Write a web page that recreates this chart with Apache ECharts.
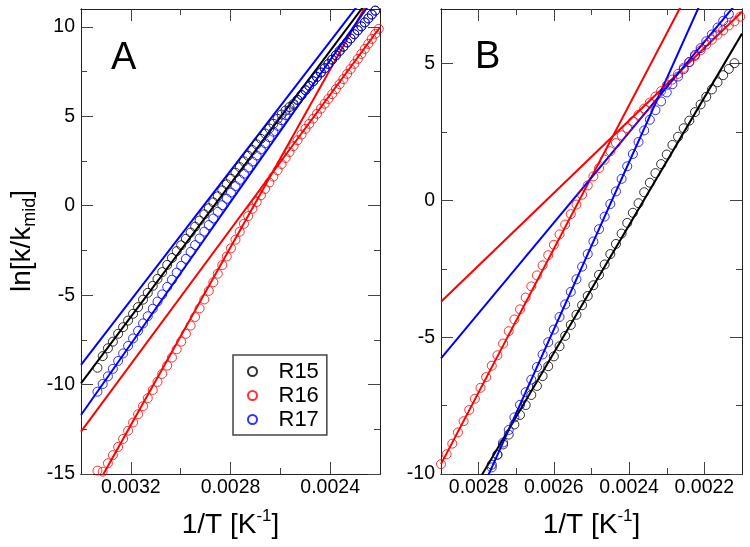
<!DOCTYPE html>
<html>
<head>
<meta charset="utf-8">
<script src="https://cdn.jsdelivr.net/npm/echarts@6/dist/echarts.min.js"></script>
<style>
  html, body { margin: 0; padding: 0; background: #fff; }
  #chart { width: 750px; height: 547px; }
</style>
</head>
<body>
<div id="chart"></div>
<script>
'use strict';

// panel A : 1/T grid and ln[k/kmid] for each series
var invTA = [
  0.003334, 0.003313, 0.003292, 0.003272, 0.003251, 0.003231, 0.003211, 0.003191, 0.003171, 0.003151,
  0.003132, 0.003112, 0.003093, 0.003074, 0.003054, 0.003035, 0.003016, 0.002998, 0.002979, 0.002960,
  0.002942, 0.002924, 0.002905, 0.002887, 0.002869, 0.002851, 0.002833, 0.002815, 0.002798, 0.002780,
  0.002763, 0.002746, 0.002729, 0.002712, 0.002695, 0.002678, 0.002661, 0.002644, 0.002628, 0.002611,
  0.002595, 0.002579, 0.002563, 0.002547, 0.002531, 0.002515, 0.002499, 0.002484, 0.002468, 0.002453,
  0.002437, 0.002422, 0.002407, 0.002392, 0.002377, 0.002362, 0.002347, 0.002332, 0.002318, 0.002303,
  0.002289, 0.002275, 0.002261, 0.002247, 0.002233, 0.002219, 0.002205
];
var r15A = [
  -9.06, -8.41, -7.97, -7.60, -7.16, -6.79, -6.42, -6.04, -5.67, -5.25,
  -4.87, -4.48, -4.09, -3.71, -3.31, -2.92, -2.54, -2.21, -1.85, -1.50,
  -1.17, -0.83, -0.48, -0.14, 0.19, 0.53, 0.86, 1.20, 1.51, 1.85,
  2.16, 2.48, 2.79, 3.11, 3.43, 3.74, 4.04, 4.32, 4.58, 4.86,
  5.10, 5.32, 5.52, 5.70, 5.92, 6.19, 6.46, 6.70, 6.96, 7.20,
  7.45, 7.69, 7.93, 8.17, 8.41, 8.65, 8.89, 9.13, 9.35, 9.59,
  9.81, 10.03, 10.25, 10.47, 10.69, 10.91
];
var r16A = [
  -14.81, -14.87, -14.40, -13.95, -13.49, -13.04, -12.58, -12.12, -11.66, -11.21,
  -10.76, -10.30, -9.85, -9.40, -8.94, -8.49, -8.03, -7.60, -7.16, -6.70,
  -6.22, -5.74, -5.24, -4.76, -4.28, -3.80, -3.32, -2.84, -2.38, -1.90,
  -1.45, -1.01, -0.58, -0.17, 0.21, 0.58, 0.94, 1.30, 1.63, 1.98,
  2.33, 2.67, 3.00, 3.33, 3.66, 3.98, 4.30, 4.58, 4.87, 5.14,
  5.43, 5.70, 5.97, 6.24, 6.52, 6.80, 7.08, 7.37, 7.64, 7.93,
  8.21, 8.49, 8.77, 9.05, 9.33, 9.61, 9.89
];
var r17A = [
  -10.40, -9.97, -9.54, -9.12, -8.68, -8.26, -7.84, -7.42, -7.00, -6.58,
  -6.18, -5.76, -5.36, -4.96, -4.54, -4.14, -3.74, -3.36, -2.97, -2.58,
  -2.20, -1.83, -1.45, -1.08, -0.71, -0.34, 0.03, 0.39, 0.74, 1.10,
  1.45, 1.79, 2.13, 2.47, 2.81, 3.15, 3.49, 3.83, 4.14, 4.47,
  4.78, 5.07, 5.36, 5.64, 5.92, 6.19, 6.46, 6.70, 6.96, 7.20,
  7.45, 7.69, 7.93, 8.17, 8.41, 8.65, 8.89, 9.13, 9.35, 9.59,
  9.81, 10.03, 10.25, 10.47, 10.69, 10.91
];

// panel B
var invTB = [
  0.002900, 0.002885, 0.002870, 0.002855, 0.002840, 0.002825, 0.002810, 0.002795, 0.002780, 0.002765,
  0.002750, 0.002735, 0.002720, 0.002705, 0.002690, 0.002675, 0.002660, 0.002645, 0.002630, 0.002615,
  0.002600, 0.002585, 0.002570, 0.002555, 0.002540, 0.002525, 0.002510, 0.002495, 0.002480, 0.002465,
  0.002450, 0.002435, 0.002420, 0.002405, 0.002390, 0.002375, 0.002360, 0.002345, 0.002330, 0.002315,
  0.002300, 0.002285, 0.002270, 0.002255, 0.002240, 0.002225, 0.002210, 0.002195, 0.002180, 0.002165,
  0.002150, 0.002135, 0.002120, 0.002105
];
var r15B = [
  null, null, null, null, null, null, null, null, -10.02, -9.66,
  -9.29, -8.92, -8.56, -8.19, -7.84, -7.48, -7.11, -6.78, -6.42, -6.06,
  -5.70, -5.33, -4.95, -4.55, -4.18, -3.83, -3.49, -3.10, -2.72, -2.34,
  -1.96, -1.59, -1.21, -0.82, -0.45, -0.10, 0.30, 0.65, 1.00, 1.33,
  1.68, 2.03, 2.33, 2.64, 2.92, 3.23, 3.51, 3.79, 4.06, 4.32,
  4.58, 4.81, 5.02
];
var r16B = [
  -9.64, -9.28, -8.89, -8.48, -8.07, -7.66, -7.25, -6.85, -6.46, -6.04,
  -5.66, -5.23, -4.78, -4.35, -3.98, -3.55, -3.14, -2.74, -2.37, -2.00,
  -1.62, -1.24, -0.88, -0.50, -0.15, 0.21, 0.55, 0.88, 1.18, 1.49,
  1.80, 2.10, 2.38, 2.64, 2.89, 3.13, 3.36, 3.58, 3.80, 4.00,
  4.21, 4.42, 4.63, 4.85, 5.06, 5.28, 5.49, 5.70, 5.88, 6.06,
  6.22, 6.40, 6.55, 6.72
];
var r17B = [
  null, null, null, null, null, null, null, null, -10.22, -9.76,
  -9.30, -8.85, -8.39, -7.93, -7.47, -7.01, -6.55, -6.09, -5.63, -5.18,
  -4.72, -4.26, -3.80, -3.34, -2.88, -2.42, -1.96, -1.50, -1.05, -0.59,
  -0.13, 0.33, 0.79, 1.25, 1.70, 2.14, 2.56, 2.95, 3.30, 3.62,
  3.95, 4.25, 4.53, 4.80, 5.06, 5.32, 5.57, 5.82, 6.07, 6.32,
  6.57, 6.82
];

// straight Arrhenius fits, end points [1/T, ln k]
var fitA15 = [[0.0034, -9.93], [0.0022, 12.38]];
var fitA16steep = [[0.0034, -17.24], [0.0022, 12.59]];
var fitA16flat = [[0.0034, -12.63], [0.0022, 9.98]];
var fitA17steep = [[0.0034, -11.70], [0.0022, 12.11]];
var fitA17flat = [[0.0034, -8.90], [0.0022, 12.81]];
var fitB15 = [[0.0029, -12.57], [0.0021, 6.10]];
var fitB16steep = [[0.0029, -9.64], [0.0021, 11.36]];
var fitB16flat = [[0.0029, -3.70], [0.0021, 6.90]];
var fitB17steep = [[0.0029, -13.89], [0.0021, 10.58]];
var fitB17flat = [[0.0029, -5.77], [0.0021, 7.45]];

// tick values
var xMajorA = [0.0024, 0.0028, 0.0032];
var xMinorA = [0.0026, 0.0030];
var yMajorA = [-15, -10, -5, 0, 5, 10];
var yMinorA = [-12.5, -7.5, -2.5, 2.5, 7.5];
var xMajorB = [0.0022, 0.0024, 0.0026, 0.0028];
var xMinorB = [0.0023, 0.0025, 0.0027];
var yMajorB = [-10, -5, 0, 5];
var yMinorB = [-7.5, -2.5, 2.5];

var names = ['R15', 'R16', 'R17'];
var colors = ['#000000', '#ff0000', '#0000ff'];
var FONT = 'Liberation Sans';

function pts(xs, ys) {
  var out = [];
  ys.forEach(function (y, i) {
    if (y !== null) out.push([xs[i], y]);
  });
  return out;
}

function xAx(grid, min, max, pos, ticks, len, labels) {
  return {
    type: 'value', gridIndex: grid, min: min, max: max, inverse: true, position: pos,
    axisLine: { show: true, onZero: false, lineStyle: { color: '#222', width: 1 } },
    axisTick: { show: true, inside: true, length: len, customValues: ticks, lineStyle: { color: '#444', width: 1 } },
    axisLabel: labels ? {
      show: true, customValues: labels, margin: 4, color: '#000', fontSize: 19.5, fontFamily: FONT,
      formatter: function (v) { return v.toFixed(4); }
    } : { show: false },
    splitLine: { show: false }
  };
}

function yAx(grid, min, max, pos, ticks, len, labels) {
  return {
    type: 'value', gridIndex: grid, min: min, max: max, position: pos,
    axisLine: { show: true, onZero: false, lineStyle: { color: '#222', width: 1 } },
    axisTick: { show: true, inside: true, length: len, customValues: ticks, lineStyle: { color: '#444', width: 1 } },
    axisLabel: labels ? {
      show: true, customValues: labels, margin: 6, color: '#000', fontSize: 19.5, fontFamily: FONT
    } : { show: false },
    splitLine: { show: false }
  };
}

function scatter(name, color, xi, data) {
  return {
    type: 'scatter', name: name, xAxisIndex: xi, yAxisIndex: xi, data: data,
    symbol: 'circle', symbolSize: 9, silent: true, z: 3,
    itemStyle: { color: 'transparent', borderColor: color, borderWidth: 1 }
  };
}

function fit(color, xi, data) {
  return {
    type: 'line', name: 'fit', xAxisIndex: xi, yAxisIndex: xi, data: data,
    symbol: 'none', silent: true, z: 2,
    lineStyle: { color: color, width: 2 }
  };
}

var gridA = { left: 81, top: 9, width: 299, height: 465 };
var gridB = { left: 441, top: 9, width: 301, height: 465 };

var option = {
  backgroundColor: '#fff',
  animation: false,
  grid: [gridA, gridA, gridB, gridB],
  xAxis: [
    xAx(0, 0.0022, 0.0034, 'bottom', xMajorA, 12, xMajorA),
    xAx(1, 0.0022, 0.0034, 'top', xMajorA, 12, null),
    xAx(1, 0.0022, 0.0034, 'bottom', xMinorA, 6, null),
    xAx(0, 0.0022, 0.0034, 'top', xMinorA, 6, null),
    xAx(2, 0.0021, 0.0029, 'bottom', xMajorB, 12, xMajorB),
    xAx(3, 0.0021, 0.0029, 'top', xMajorB, 12, null),
    xAx(3, 0.0021, 0.0029, 'bottom', xMinorB, 6, null),
    xAx(2, 0.0021, 0.0029, 'top', xMinorB, 6, null)
  ],
  yAxis: [
    yAx(0, -15, 11, 'left', yMajorA, 12, yMajorA),
    yAx(1, -15, 11, 'right', yMajorA, 12, null),
    yAx(1, -15, 11, 'left', yMinorA, 6, null),
    yAx(0, -15, 11, 'right', yMinorA, 6, null),
    yAx(2, -10, 7, 'left', yMajorB, 12, yMajorB),
    yAx(3, -10, 7, 'right', yMajorB, 12, null),
    yAx(3, -10, 7, 'left', yMinorB, 6, null),
    yAx(2, -10, 7, 'right', yMinorB, 6, null)
  ],
  legend: {
    data: names, orient: 'vertical', left: 233, top: 355,
    padding: [5, 8, 4, 14], itemWidth: 42, itemHeight: 9, itemGap: 1,
    borderColor: '#444', borderWidth: 1.5, selectedMode: false,
    textStyle: { fontSize: 22, fontFamily: FONT, color: '#000', lineHeight: 23 }
  },
  graphic: [
    { type: 'text', x: 111, y: 59, style: { text: 'A', fontSize: 38, fontFamily: FONT, fill: '#000', align: 'left', verticalAlign: 'middle' } },
    { type: 'text', x: 475, y: 58, style: { text: 'B', fontSize: 38, fontFamily: FONT, fill: '#000', align: 'left', verticalAlign: 'middle' } },
    {
      type: 'text', x: 230.5, y: 525,
      style: {
        text: '1/T [K{sup|-1}]', fontSize: 28, fontFamily: FONT, fill: '#000', lineHeight: 34,
        align: 'center', verticalAlign: 'middle',
        rich: { sup: { fontSize: 17, lineHeight: 17, verticalAlign: 'top', fontFamily: FONT } }
      }
    },
    {
      type: 'text', x: 591.5, y: 525,
      style: {
        text: '1/T [K{sup|-1}]', fontSize: 28, fontFamily: FONT, fill: '#000', lineHeight: 34,
        align: 'center', verticalAlign: 'middle',
        rich: { sup: { fontSize: 17, lineHeight: 17, verticalAlign: 'top', fontFamily: FONT } }
      }
    },
    {
      type: 'text', x: 22, y: 241, rotation: Math.PI / 2,
      style: {
        text: 'ln[k/k{sub|mid}]', fontSize: 28, fontFamily: FONT, fill: '#000', lineHeight: 34,
        align: 'center', verticalAlign: 'middle',
        rich: { sub: { fontSize: 18, lineHeight: 17, verticalAlign: 'bottom', fontFamily: FONT } }
      }
    }
  ],
  series: [
    fit(colors[0], 0, fitA15),
    fit(colors[1], 0, fitA16steep),
    fit(colors[1], 0, fitA16flat),
    fit(colors[2], 0, fitA17steep),
    fit(colors[2], 0, fitA17flat),
    scatter(names[0], colors[0], 0, pts(invTA, r15A)),
    scatter(names[1], colors[1], 0, pts(invTA, r16A)),
    scatter(names[2], colors[2], 0, pts(invTA, r17A)),
    fit(colors[0], 4, fitB15),
    fit(colors[1], 4, fitB16steep),
    fit(colors[1], 4, fitB16flat),
    fit(colors[2], 4, fitB17steep),
    fit(colors[2], 4, fitB17flat),
    scatter(names[0], colors[0], 4, pts(invTB, r15B)),
    scatter(names[1], colors[1], 4, pts(invTB, r16B)),
    scatter(names[2], colors[2], 4, pts(invTB, r17B))
  ]
};

var chart = echarts.init(document.getElementById('chart'), null, { renderer: 'canvas' });
chart.setOption(option);
</script>
</body>
</html>
